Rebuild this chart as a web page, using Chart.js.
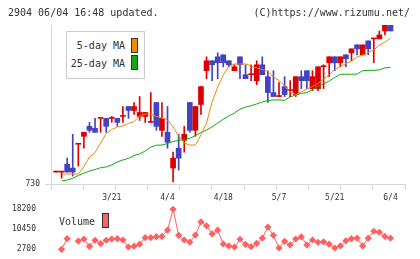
<!DOCTYPE html>
<html><head><meta charset="utf-8">
<script src="https://cdn.jsdelivr.net/npm/chart.js@4"></script>
<style>
html,body{margin:0;padding:0;background:#fff;width:420px;height:259px;overflow:hidden;}
#wrap{position:relative;width:420px;height:259px;font-family:"DejaVu Sans Mono",monospace;color:#333;}
.t{position:absolute;font-size:10px;line-height:12px;white-space:pre;}
canvas{position:absolute;left:0;}
#main{top:0;}
#vol{top:190px;}
.lgbox{position:absolute;left:65.5px;top:30.5px;width:77px;height:46px;border:1px solid #ccc;background:#fff;}
.sw{position:absolute;width:5px;height:13px;border:1px solid #333;}
</style>
</head><body>
<div id="wrap">
<canvas id="main" width="420" height="195"></canvas>
<canvas id="vol" width="420" height="69"></canvas>
<div class="t" style="left:8px;top:6.5px;">2904 06/04 16:48 updated.</div>
<div class="t" style="right:10px;top:6.5px;">(C)https://www.rizumu.net/</div>
<div class="lgbox"></div>
<div class="t" style="right:295px;top:40px;">5-day MA</div>
<div class="t" style="right:295px;top:57.5px;">25-day MA</div>
<div class="sw" style="left:131px;top:37.5px;background:#f08a00;"></div>
<div class="sw" style="left:131px;top:54.5px;background:#11aa11;"></div>
<div class="t" style="left:59px;top:216px;">Volume</div>
<div class="sw" style="left:101.5px;top:213px;background:#ff6060;"></div>
</div>
<script>
const dates = ['3/6','3/7','3/8','3/11','3/12','3/13','3/14','3/15','3/18','3/19','3/21','3/22','3/25','3/26','3/27','3/28','3/29',
'4/1','4/2','4/3','4/4','4/5','4/8','4/9','4/10','4/11','4/12','4/15','4/16','4/17','4/18','4/19','4/22','4/23','4/24','4/25','4/26','4/30',
'5/1','5/2','5/7','5/8','5/9','5/10','5/13','5/14','5/15','5/16','5/17','5/20','5/21','5/22','5/23','5/24','5/27','5/28','5/29','5/30','5/31',
'6/3','6/4'];
const tickDates = ['3/21','4/4','4/18','5/7','5/21','6/4'];
const open  = [736,736,740,738,750,754,759,758,763,763,763,763,764,769,767,764,764,761,771,757,756,738,748,752,771,757,770,787,792,794,795,792,787,794,785,785,782,790,784,776,774,779,777,775,784,787,778,778,789,791,794,791,795,796,800,795,802,803,803,807,810];
const high  = [736,736,743,755,750,756,761,763,763,763,764,763,769,769,771,774,766,776,771,771,769,746,755,759,771,769,779,794,792,796,795,792,790,794,790,790,792,794,787,787,781,784,782,784,787,787,787,789,790,794,794,794,795,798,800,800,802,803,807,810,810];
const low   = [736,733,736,734,739,748,756,756,756,756,761,759,761,763,765,762,761,761,757,754,748,731,737,746,756,754,765,783,782,783,789,789,787,783,783,782,780,785,771,774,774,774,774,774,778,778,777,777,778,784,787,789,789,792,795,795,795,791,803,805,807];
const close = [736,736,736,736,750,756,757,756,763,759,763,761,764,767,769,766,766,761,759,763,751,743,743,755,757,769,779,792,790,791,791,790,789,790,783,785,790,785,776,774,774,775,777,784,782,782,784,789,789,794,791,794,793,798,798,800,798,803,805,810,807];
const ma5 = [null,735,735,735,735,738.8,743.6,745.8,750.6,755.4,757.4,758.7,759.2,760.5,761.4,764.2,765.2,765.2,764,763.2,762.2,758.7,754.2,750.6,749.6,749.6,754.7,760.7,771.3,778.8,784.8,789.1,790.4,790.4,790.4,789.4,788.4,787.6,786.6,783.8,782.1,779.3,776.3,775,776.3,777.8,779.1,780.6,782.8,784.8,787.6,789.1,790.6,791.9,793.9,794.9,796.2,797.4,799.9,801.4,803.3];
const ma25 = [null,731.5,732,732.9,734.3,735.5,736.5,737.3,738.2,738.6,739.6,741.1,742.1,742.9,744.3,745.1,746.6,748.6,749.5,749.6,750.4,751.4,751.9,752.6,753,754.4,755.9,757.2,758.7,760.7,762.6,764.2,765.7,767.7,768.7,769.4,770.3,771.3,772,772.3,772.3,772.1,773.8,774.8,775.6,776,777.5,779.3,780.3,781.8,783.6,785.2,785.2,785.2,785.3,787,787.2,787.2,787.4,788.4,788.7];
const volume = [null,2700,6800,null,5900,6700,3800,6200,4900,6200,6700,6800,6300,3600,3900,4700,7200,7200,7600,7700,10100,18200,8100,6300,5500,8200,13300,11800,8700,10100,4800,4000,3600,6600,4600,3700,5000,7000,11300,8100,3200,5800,4400,6700,7500,4400,6300,5400,5600,4700,3200,4000,6000,6800,7000,4000,7000,9700,9300,7700,7000];
const priceTicks = [730];
const volTicks = [2700,10450,18200];

const RED='#dd0000', BLUE='#4242c2', ORANGE='#f08a00', GREEN='#11aa11', VOL='#ff6060', AXIS='#d6d6d6', TXT='#333';
const FONT8 = {family:'DejaVu Sans Mono', size:8};
const XMIN=-0.9, XMAX=62.6;
const idx = dates.map((d,i)=>i);
const colors = idx.map(i => close[i] >= open[i] ? RED : BLUE);

new Chart(document.getElementById('main'), {
  type:'bar',
  data:{datasets:[
    {type:'line', data: idx.map(i=>({x:i,y:ma5[i]})), borderColor:ORANGE, borderWidth:1, pointRadius:0, spanGaps:false, order:0},
    {type:'line', data: idx.map(i=>({x:i,y:ma25[i]})), borderColor:GREEN, borderWidth:1, pointRadius:0, spanGaps:false, order:0},
    {type:'bar', data: idx.map(i=>({x:i,y:[open[i],close[i]]})), backgroundColor:colors, barThickness:5, minBarLength:1, grouped:false, order:1},
    {type:'bar', data: idx.map(i=>({x:i,y:[low[i],high[i]]})), backgroundColor:colors, barThickness:1, minBarLength:1, grouped:false, order:2}
  ]},
  options:{
    responsive:false, animation:false, events:[],
    layout:{padding:{top:25,right:15,left:0,bottom:0}},
    plugins:{legend:{display:false}, tooltip:{enabled:false}},
    scales:{
      x:{type:'linear', min:XMIN, max:XMAX, offset:false, bounds:'data',
         grid:{display:true, drawOnChartArea:false, drawTicks:true, tickLength:6, color:AXIS, offset:false},
         border:{display:true, color:AXIS},
         ticks:{display:false},
         afterBuildTicks:s=>{ s.ticks = Array.from({length:12},(_,k)=>({value: s.min + k*(s.max-s.min)/11})); },
         afterFit:s=>{ s.height = 11; }
      },
      y:{min:730, max:810, bounds:'data',
         grid:{display:true, drawOnChartArea:false, tickLength:6, color:AXIS},
         border:{display:true, color:AXIS},
         ticks:{font:FONT8, color:TXT, padding:5, callback:v=>String(v)},
         afterBuildTicks:s=>{ s.ticks = priceTicks.map(v=>({value:v})); },
         afterFit:s=>{ s.width = 51; }
      }
    }
  }
});

new Chart(document.getElementById('vol'), {
  type:'line',
  data:{datasets:[
    {data: idx.map(i=>({x:i,y:volume[i]})), borderColor:VOL, borderWidth:1, spanGaps:false, clip:false,
     pointStyle:'rectRot', pointRadius:3.6, pointBackgroundColor:VOL, pointBorderWidth:0}
  ]},
  options:{
    responsive:false, animation:false, events:[],
    layout:{padding:{top:0,right:15,left:0,bottom:9.7}},
    plugins:{legend:{display:false}, tooltip:{enabled:false}},
    scales:{
      x:{type:'linear', position:'top', min:XMIN, max:XMAX, offset:false, bounds:'data',
         grid:{display:false}, border:{display:false},
         ticks:{font:FONT8, color:TXT, padding:-1.5, maxRotation:0, autoSkip:false, callback:v=>dates[Math.round(v)]},
         afterBuildTicks:s=>{ s.ticks = tickDates.map(d=>({value: dates.indexOf(d)})); },
         afterFit:s=>{ s.height = 19.3; }
      },
      y:{min:2700, max:18200, bounds:'data',
         grid:{display:false}, border:{display:false},
         ticks:{font:FONT8, color:TXT, padding:7, callback:v=>String(v)},
         afterBuildTicks:s=>{ s.ticks = volTicks.map(v=>({value:v})); },
         afterFit:s=>{ s.width = 51; s.paddingTop = 0; s.paddingBottom = 0; }
      }
    }
  }
});
</script>
</body></html>
